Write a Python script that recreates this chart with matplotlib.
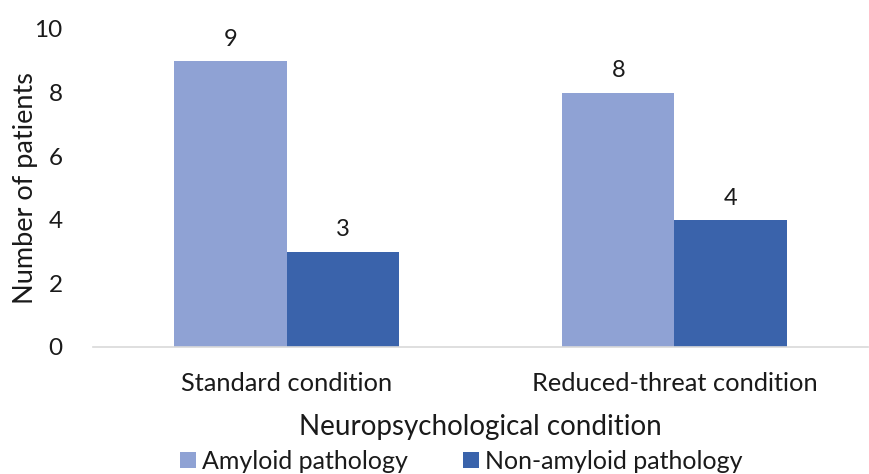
import numpy as np
import matplotlib.pyplot as plt

categories = ['Standard condition', 'Reduced-threat condition']
series_names = ['Amyloid pathology', 'Non-amyloid pathology']
amyloid = [9, 8]
non_amyloid = [3, 4]
colors = ['#8FA2D4', '#3A63AB']

plt.rcParams['font.family'] = ['Lato', 'DejaVu Sans']

fig = plt.figure(figsize=(8.7, 4.74), dpi=100)
ax = fig.add_axes([0.107, 0.268, 0.891, 0.671])

x = np.arange(len(categories))
w = 0.29
b1 = ax.bar(x - w / 2, amyloid, w, color=colors[0], label=series_names[0])
b2 = ax.bar(x + w / 2, non_amyloid, w, color=colors[1], label=series_names[1])

for bars in (b1, b2):
    for rect in bars:
        ax.annotate(f'{rect.get_height():g}',
                    (rect.get_x() + rect.get_width() / 2, rect.get_height()),
                    xytext=(0, 8), textcoords='offset points',
                    ha='center', va='bottom', fontsize=17, color='#1a1a1a')

ax.set_xlim(-0.5, 1.5)
ax.set_ylim(0, 10)
ax.set_yticks(range(0, 11, 2))
ax.set_xticks(x)
ax.set_xticklabels(categories)
ax.tick_params(axis='both', length=0, labelsize=17.5, colors='#1a1a1a')
ax.tick_params(axis='x', labelsize=18.3, pad=18)
ax.tick_params(axis='y', pad=22)
for s in ['top', 'right', 'left']:
    ax.spines[s].set_visible(False)
ax.spines['bottom'].set_color('#d9d9d9')
ax.spines['bottom'].set_linewidth(1.2)

ax.set_ylabel('Number of patients', fontsize=19.5, color='#1a1a1a', labelpad=-3)
ax.set_xlabel('Neuropsychological condition', fontsize=20, color='#1a1a1a', labelpad=14)

fig.legend(loc='lower center', bbox_to_anchor=(0.53, -0.045), ncol=2, frameon=False,
           fontsize=18, handlelength=0.64, handleheight=0.64, handletextpad=0.25,
           columnspacing=2.2, labelcolor='#1a1a1a')

fig.savefig('out.png', dpi=100)
